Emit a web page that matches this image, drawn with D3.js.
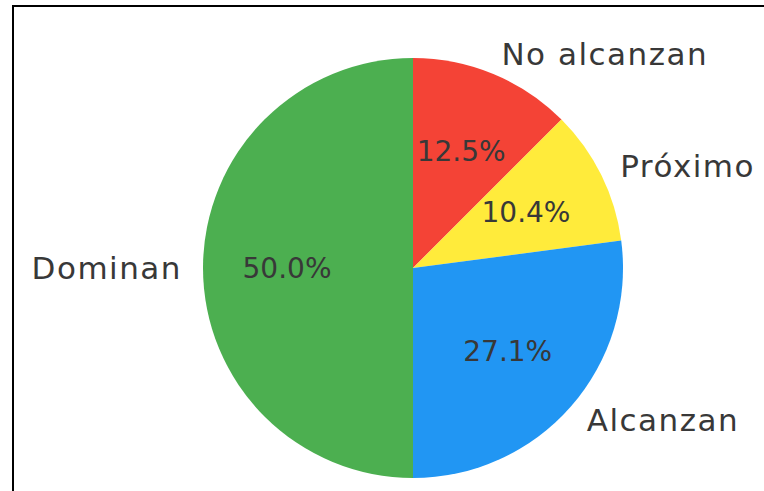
<!DOCTYPE html>
<html>
<head>
<meta charset="utf-8">
<script src="https://cdn.jsdelivr.net/npm/d3@7"></script>
<style>
  body { margin: 0; background: #fff; }
  svg { display: block; }
</style>
</head>
<body>
<div id="chart"></div>
<script>
// data
var categories = ["No alcanzan", "Próximo", "Alcanzan", "Dominan"];
var counts = [6, 5, 13, 24];
var colors = ["#F44336", "#FFEB3B", "#2196F3", "#4CAF50"];

var width = 764, height = 491;
var cx = 413, cy = 268, radius = 210;

var svg = d3.select("#chart")
    .append("svg")
    .attr("width", width)
    .attr("height", height);

// frame (cropped on right/bottom)
svg.append("path")
    .attr("d", "M13,495 L13,6 L770,6")
    .attr("fill", "none")
    .attr("stroke", "#000")
    .attr("stroke-width", 2);

var g = svg.append("g")
    .attr("transform", "translate(" + cx + "," + cy + ")");

var total = d3.sum(counts);
var pie = d3.pie().sort(null).value(function (d) { return d; });
var arcs = pie(counts);

var arc = d3.arc().innerRadius(0).outerRadius(radius);

g.selectAll("path.slice")
    .data(arcs)
    .enter().append("path")
    .attr("class", "slice")
    .attr("d", arc)
    .attr("fill", function (d, i) { return colors[i]; });

function pos(d, k) {
    var a = (d.startAngle + d.endAngle) / 2;
    return [Math.sin(a) * radius * k, -Math.cos(a) * radius * k];
}

var fmt = d3.format(".1f");

// outer labels
g.selectAll("text.label")
    .data(arcs)
    .enter().append("text")
    .attr("class", "label")
    .attr("x", function (d) { return pos(d, 1.1)[0]; })
    .attr("y", function (d) { return pos(d, 1.1)[1]; })
    .attr("dy", "0.35em")
    .attr("text-anchor", function (d) { return pos(d, 1.1)[0] >= 0 ? "start" : "end"; })
    .style("font-family", "DejaVu Sans")
    .style("font-size", "31px")
    .style("letter-spacing", "1.5px")
    .style("fill", "#383838")
    .text(function (d, i) { return categories[i]; });

// percentages
g.selectAll("text.pct")
    .data(arcs)
    .enter().append("text")
    .attr("class", "pct")
    .attr("x", function (d) { return pos(d, 0.6)[0]; })
    .attr("y", function (d) { return pos(d, 0.6)[1]; })
    .attr("dy", "0.35em")
    .attr("text-anchor", "middle")
    .style("font-family", "DejaVu Sans")
    .style("font-size", "28px")
    .style("fill", "#383838")
    .text(function (d) { return fmt(d.value / total * 100) + "%"; });
</script>
</body>
</html>
